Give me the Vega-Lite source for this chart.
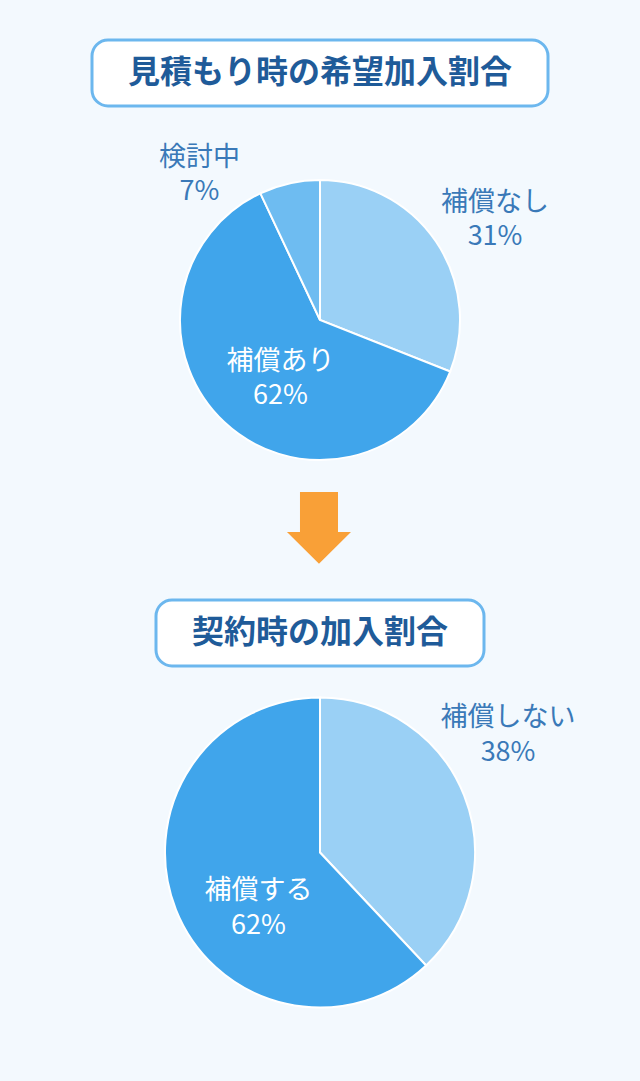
{
  "$schema": "https://vega.github.io/schema/vega-lite/v6.json",
  "background": "#f3f9fe",
  "padding": {"top": 38, "left": 0, "right": 0, "bottom": 104},
  "config": {
    "view": {"stroke": null},
    "font": "Noto Sans CJK JP",
    "text": {"font": "Noto Sans CJK JP", "align": "center", "baseline": "middle"}
  },
  "datasets": {
    "titles": [
      {"step": 1, "title": "見積もり時の希望加入割合"},
      {"step": 2, "title": "契約時の加入割合"}
    ],
    "wish": [
      {"category": "補償なし", "share": 0.31, "rank": 1, "label": "補償なし\n31%"},
      {"category": "補償あり", "share": 0.62, "rank": 2, "label": "補償あり\n62%"},
      {"category": "検討中", "share": 0.07, "rank": 3, "label": "検討中\n7%"}
    ],
    "contract": [
      {"category": "補償しない", "share": 0.38, "rank": 1, "label": "補償しない\n38%"},
      {"category": "補償する", "share": 0.62, "rank": 2, "label": "補償する\n62%"}
    ]
  },
  "spacing": 60,
  "center": true,
  "bounds": "flush",
  "resolve": {"scale": {"theta": "independent", "color": "independent"}},
  "vconcat": [
    {
      "width": 456,
      "height": 66,
      "data": {"name": "titles"},
      "transform": [{"filter": "datum.step === 1"}],
      "view": {"fill": "white", "stroke": "#6cb7ee", "strokeWidth": 3, "cornerRadius": 16},
      "mark": {"type": "text", "fontSize": 32, "fontWeight": "bold", "color": "#1f5b99"},
      "encoding": {"text": {"field": "title", "type": "nominal"}}
    },
    {
      "width": 640,
      "height": 308,
      "data": {"name": "wish"},
      "layer": [
        {
          "mark": {"type": "arc", "outerRadius": 140, "stroke": "white", "strokeWidth": 2},
          "encoding": {
            "theta": {"field": "share", "type": "quantitative", "stack": true},
            "order": {"field": "rank", "type": "quantitative"},
            "color": {
              "field": "category",
              "type": "nominal",
              "scale": {"domain": ["補償なし", "補償あり", "検討中"], "range": ["#9ad0f5", "#40a5eb", "#6ebcf1"]},
              "legend": null
            }
          }
        },
        {
          "transform": [{"filter": "datum.category === '補償なし'"}],
          "mark": {"type": "text", "radius": 210.5, "theta": 0.982, "lineBreak": "\n", "lineHeight": 34, "fontSize": 27, "color": "#3a79b8"},
          "encoding": {"text": {"field": "label", "type": "nominal"}}
        },
        {
          "transform": [{"filter": "datum.category === '検討中'"}],
          "mark": {"type": "text", "radius": 201.5, "theta": -0.641, "lineBreak": "\n", "lineHeight": 34, "fontSize": 27, "color": "#3a79b8"},
          "encoding": {"text": {"field": "label", "type": "nominal"}}
        },
        {
          "transform": [{"filter": "datum.category === '補償あり'"}],
          "mark": {"type": "text", "radius": 57.7, "theta": -2.387, "lineBreak": "\n", "lineHeight": 34, "fontSize": 27, "color": "white"},
          "encoding": {"text": {"field": "label", "type": "nominal"}}
        }
      ]
    },
    {
      "width": 640,
      "height": 6,
      "data": {"values": [{"step": "next"}]},
      "mark": {
        "type": "point",
        "shape": "M-0.556,-1.25L0.5,-1.25L0.5,-0.139L0.861,-0.139L-0.028,0.74L-0.917,-0.139L-0.556,-0.139Z",
        "size": 5184,
        "filled": true,
        "color": "#f9a037",
        "opacity": 1,
        "strokeWidth": 0
      },
      "encoding": {}
    },
    {
      "width": 328,
      "height": 66,
      "data": {"name": "titles"},
      "transform": [{"filter": "datum.step === 2"}],
      "view": {"fill": "white", "stroke": "#6cb7ee", "strokeWidth": 3, "cornerRadius": 16},
      "mark": {"type": "text", "fontSize": 32, "fontWeight": "bold", "color": "#1f5b99"},
      "encoding": {"text": {"field": "title", "type": "nominal"}}
    },
    {
      "width": 640,
      "height": 253,
      "data": {"name": "contract"},
      "layer": [
        {
          "mark": {"type": "arc", "outerRadius": 155, "stroke": "white", "strokeWidth": 2},
          "encoding": {
            "theta": {"field": "share", "type": "quantitative", "stack": true},
            "order": {"field": "rank", "type": "quantitative"},
            "color": {
              "field": "category",
              "type": "nominal",
              "scale": {"domain": ["補償しない", "補償する"], "range": ["#9ad0f5", "#40a5eb"]},
              "legend": null
            }
          }
        },
        {
          "transform": [{"filter": "datum.category === '補償しない'"}],
          "mark": {"type": "text", "radius": 231.2, "theta": 0.950, "lineBreak": "\n", "lineHeight": 35, "fontSize": 27, "color": "#3a79b8"},
          "encoding": {"text": {"field": "label", "type": "nominal"}}
        },
        {
          "transform": [{"filter": "datum.category === '補償する'"}],
          "mark": {"type": "text", "radius": 72.3, "theta": -2.125, "lineBreak": "\n", "lineHeight": 35, "fontSize": 27, "color": "white"},
          "encoding": {"text": {"field": "label", "type": "nominal"}}
        }
      ]
    }
  ]
}
